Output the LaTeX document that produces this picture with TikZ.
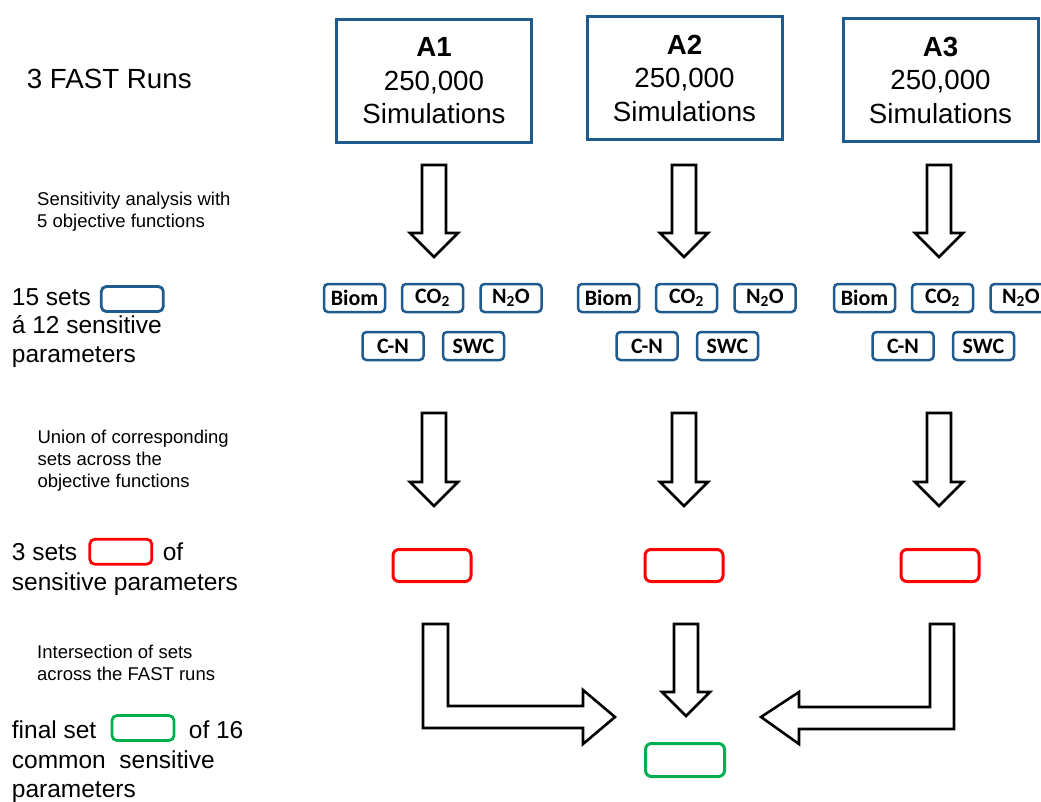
\documentclass[tikz,border=0pt]{standalone}
\usepackage{fontspec}
\setmainfont{Liberation Sans}
\newfontfamily\labfont{Carlito}
\usetikzlibrary{positioning}
\definecolor{runBlue}{RGB}{31, 91, 142}
\definecolor{setRed}{RGB}{255, 0, 0}
\definecolor{setGreen}{RGB}{0, 176, 80}
\tikzset{
  RunBox/.style   = {draw=runBlue, line width=3pt, minimum width=195pt, minimum height=123pt,
                     align=center, font=\fontsize{27.7}{33.5}\selectfont},
  ObjBox/.style   = {draw=runBlue, line width=2.5pt, rounded corners=4pt, minimum width=61pt,
                     minimum height=28pt, inner sep=0pt, font={\labfont\bfseries\fontsize{22}{26}\selectfont}},
  SetRed/.style   = {draw=setRed, line width=3pt, rounded corners=6pt, minimum width=78pt, minimum height=32pt},
  SetGreen/.style = {draw=setGreen, line width=3pt, rounded corners=6pt, minimum width=79pt, minimum height=33pt},
  KeyBox/.style   = {line width=2.8pt, rounded corners=5pt, minimum width=62pt, minimum height=25pt},
  TtlLab/.style   = {font=\fontsize{27.7}{33}\selectfont, anchor=base west, inner sep=0pt},
  SideLab/.style  = {font=\fontsize{24.5}{29}\selectfont, anchor=base west, inner sep=0pt, align=left},
  NoteLab/.style  = {font=\fontsize{18.5}{22}\selectfont, anchor=base west, inner sep=0pt, align=left},
  BlockArr/.style = {draw=black, line width=2.6pt, fill=white, line join=miter},
}
% hollow block arrow pointing down: x, top, tip
\newcommand{\DownBlock}[3]{%
  \draw[BlockArr] (#1-12,#2) -- (#1+12,#2) -- (#1+12,#3-24) -- (#1+24,#3-24)
    -- (#1,#3) -- (#1-24,#3-24) -- (#1-12,#3-24) -- cycle;}

\begin{document}
\begin{tikzpicture}[x=1pt, y=-1pt]
\useasboundingbox (0,0) rectangle (1041,801);

% ======================= FAST runs =======================================
\node[TtlLab] (runs) at (26.7,88) {3 FAST Runs};
\foreach \nm/\x/\y in {A1/434/81, A2/684.5/78, A3/940.5/80}
    \node[RunBox] (run\nm) at (\x,\y) {\textbf{\nm}\\250,000\\Simulations};

% ======================= sensitivity analysis ============================
% (base of a multi-line label = baseline of its last line)
\node[NoteLab] (sensnote) at (37,227) {Sensitivity analysis with\\5 objective functions};
\foreach \x in {434,684,939}
    \DownBlock{\x}{165}{257};

% one set per objective function, per run
\node[SideLab] (sets15) at (11.7,305) {15 sets};
\node[KeyBox, draw=runBlue] (key15) at (132.3,299) {};
\node[SideLab] (sets15b) at (11.7,362) {á 12 sensitive\\parameters};
\foreach \g [count=\k] in {0,254,510} {
    \node[ObjBox] (biom\k) at (354.5+\g,298) {Biom};
    \node[ObjBox] (co\k)   at (432.5+\g,298) {CO\textsubscript{2}};
    \node[ObjBox] (nto\k)  at (511+\g,298)   {N\textsubscript{2}O};
    \node[ObjBox] (cn\k)   at (393+\g,346)   {C-N};
    \node[ObjBox] (swc\k)  at (473.5+\g,346) {SWC};
}

% ======================= union ===========================================
\node[NoteLab] (unionnote) at (37.3,487) {Union of corresponding\\sets across the\\objective functions};
\foreach \x in {434,684,939}
    \DownBlock{\x}{413}{506};

\node[SideLab] (sets3) at (11.7,560) {3 sets};
\node[KeyBox, draw=setRed] (key3) at (120.8,551.7) {};
\node[SideLab] (sets3of) at ([xshift=9.4pt]key3.east |- sets3.base) {of};
\node[SideLab] (sets3b) at (11.7,590) {sensitive parameters};
\foreach \x [count=\k] in {432,684,940}
    \node[SetRed] (union\k) at (\x,565.5) {};

% ======================= intersection ====================================
\node[NoteLab] (internote) at (37,680) {Intersection of sets\\across the FAST runs};
\draw[BlockArr] (423,624) -- (448,624) -- (448,706) -- (583,706) -- (583,690)
    -- (615,717) -- (583,744) -- (583,728) -- (423,728) -- cycle;
\DownBlock{686}{624}{716};
\draw[BlockArr] (954,624) -- (930,624) -- (930,707) -- (799,707) -- (799,692)
    -- (761,717) -- (799,744) -- (799,729) -- (954,729) -- cycle;

\node[SideLab] (final) at (11.7,738) {final set};
\node[KeyBox, draw=setGreen] (keyfin) at (143,728) {};
\node[SideLab] (finalof) at ([xshift=13.3pt]keyfin.east |- final.base) {of 16};
\node[SideLab] (finalb) at (11.7,797) {common~ sensitive\\parameters};
\node[SetGreen] (common) at (685,760) {};

\end{tikzpicture}
\end{document}
